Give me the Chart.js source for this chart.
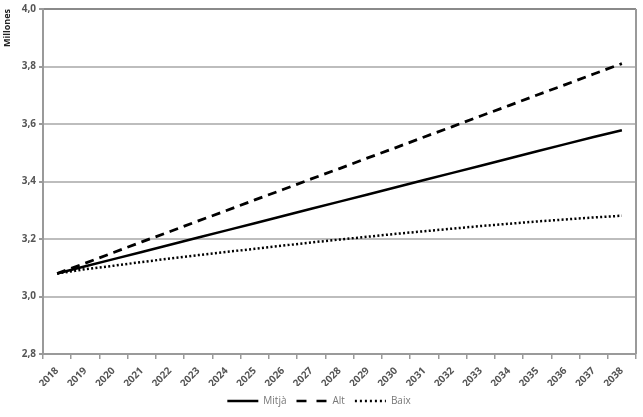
<!DOCTYPE html>
<html>
<head>
<meta charset="utf-8">
<script src="https://cdn.jsdelivr.net/npm/chart.js@4.4.0/dist/chart.umd.min.js"></script>
<style>
  body { margin: 0; background: #fff; }
  #wrap { width: 643px; height: 417px; }
</style>
</head>
<body>
<div id="wrap"><canvas id="grafic"></canvas></div>
<script>
// Anys de la projecció
const anys = ['2018', '2019', '2020', '2021', '2022', '2023', '2024', '2025', '2026', '2027', '2028',
    '2029', '2030', '2031', '2032', '2033', '2034', '2035', '2036', '2037', '2038'];

// Escenaris (milions d'habitants)
const mitja = [3.080, 3.105, 3.130, 3.155, 3.180, 3.205, 3.230, 3.255, 3.280, 3.305, 3.330,
    3.355, 3.380, 3.405, 3.430, 3.455, 3.480, 3.505, 3.530, 3.555, 3.578];
const alt = [3.080, 3.116, 3.153, 3.190, 3.226, 3.263, 3.299, 3.336, 3.372, 3.409, 3.445,
    3.482, 3.518, 3.555, 3.591, 3.628, 3.664, 3.701, 3.737, 3.774, 3.810];
const baix = [3.080, 3.095, 3.107, 3.120, 3.132, 3.144, 3.155, 3.166, 3.177, 3.188, 3.198,
    3.208, 3.218, 3.227, 3.236, 3.245, 3.253, 3.261, 3.268, 3.275, 3.281];

const gris = '#bdbdbd';
const textGris = '#555';

// Vora dreta de l'àrea del gràfic
const voraDreta = {
    id: 'voraDreta',
    afterDraw(chart) {
        const a = chart.chartArea;
        const ctx = chart.ctx;
        ctx.save();
        ctx.strokeStyle = '#9a9a9a';
        ctx.lineWidth = 2;
        ctx.beginPath();
        ctx.moveTo(a.right, a.top);
        ctx.lineTo(a.right, a.bottom);
        ctx.stroke();
        ctx.restore();
    }
};

new Chart(document.getElementById('grafic'), {
    type: 'line',
    data: {
        labels: anys,
        datasets: [
            { label: 'Mitjà', data: mitja, borderColor: '#000', borderWidth: 2.5, pointRadius: 0, tension: 0, legendDash: [] },
            { label: 'Alt', data: alt, borderColor: '#000', borderWidth: 2.8, borderDash: [9, 6], pointRadius: 0, tension: 0, legendDash: [10, 10] },
            { label: 'Baix', data: baix, borderColor: '#000', borderWidth: 2.5, borderDash: [2, 2.3], pointRadius: 0, tension: 0, legendDash: [2, 3] }
        ]
    },
    plugins: [voraDreta],
    options: {
        responsive: true,
        maintainAspectRatio: false,
        animation: false,
        layout: { padding: { top: 9, right: 7, bottom: 1, left: 2 } },
        plugins: {
            legend: {
                position: 'bottom',
                labels: {
                    usePointStyle: true,
                    pointStyle: 'line',
                    pointStyleWidth: 31,
                    boxWidth: 31,
                    padding: 10,
                    color: '#777',
                    font: { family: 'Open Sans', size: 10 },
                    // el traç de la llegenda segueix el de cada sèrie
                    generateLabels: chart => Chart.defaults.plugins.legend.labels.generateLabels(chart).map((l, i) => ({
                        ...l,
                        lineDash: chart.data.datasets[i].legendDash,
                        lineWidth: 2.5,
                        strokeStyle: '#000'
                    }))
                }
            },
            tooltip: { enabled: false }
        },
        scales: {
            x: {
                offset: true,
                afterFit(scale) { scale.height = 32; },
                grid: {
                    offset: true,
                    color: 'transparent',
                    tickColor: '#999',
                    tickLength: 5,
                    lineWidth: 1.5
                },
                border: { color: '#9a9a9a', width: 2 },
                ticks: {
                    minRotation: 45,
                    maxRotation: 45,
                    color: textGris,
                    padding: 6,
                    font: { family: 'Open Sans', size: 10, weight: 'bold' }
                }
            },
            y: {
                min: 2.8,
                max: 4.0,
                afterFit(scale) { scale.width = 41; },
                grid: {
                    color: c => (c.tick && c.tick.value >= 3.99 ? '#8a8a8a' : gris),
                    lineWidth: 2,
                    tickColor: '#999',
                    tickLength: 4
                },
                border: { color: '#9a9a9a', width: 2 },
                ticks: {
                    stepSize: 0.2,
                    color: textGris,
                    padding: 3,
                    font: { family: 'Open Sans', size: 10, weight: 'bold' },
                    callback: v => v.toFixed(1).replace('.', ',')
                },
                title: {
                    display: true,
                    text: 'Millones',
                    align: 'end',
                    color: '#222',
                    padding: { top: 0, bottom: 1 },
                    font: { family: 'Open Sans', size: 9, weight: 'bold' }
                }
            }
        }
    }
});
</script>
</body>
</html>
